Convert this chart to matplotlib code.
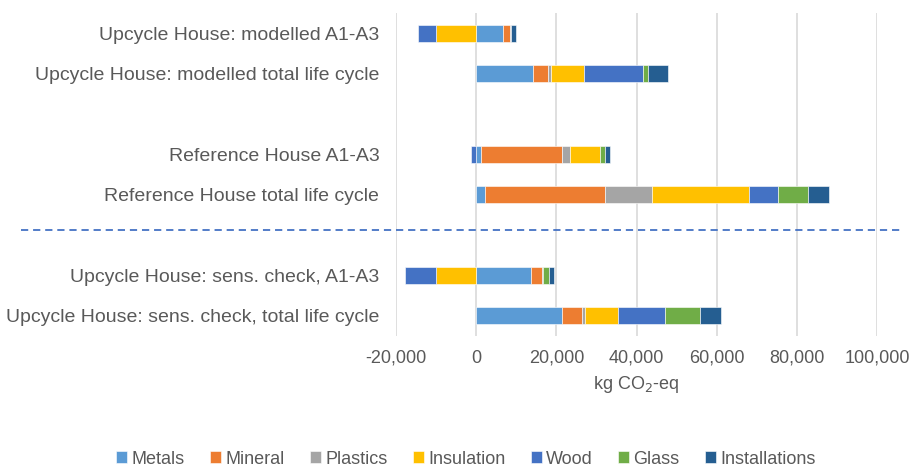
import matplotlib.pyplot as plt
from matplotlib.lines import Line2D

plt.rcParams['font.family'] = ['Liberation Sans', 'DejaVu Sans']

# categories, top to bottom ("" = empty spacer slot)
categories = ["Upcycle House: modelled A1-A3",
              "Upcycle House: modelled total life cycle",
              "",
              "Reference House A1-A3",
              "Reference House total life cycle",
              "",
              "Upcycle House: sens. check, A1-A3",
              "Upcycle House: sens. check, total life cycle"]

materials = ["Metals", "Mineral", "Plastics", "Insulation", "Wood", "Glass", "Installations"]
colors = ["#5B9BD5", "#ED7D31", "#A5A5A5", "#FFC000", "#4472C4", "#70AD47", "#255E91"]

# kg CO2-eq per material, one list per material, in category order
metals        = [6600, 14250, 0, 1300, 2300, 0, 13700, 21400]
mineral       = [1900, 3750, 0, 20000, 29750, 0, 2700, 4900]
plastics      = [150, 750, 0, 2150, 11750, 0, 200, 750]
insulation    = [-10000, 8150, 0, 7350, 24300, 0, -10000, 8250]
wood          = [-4400, 14750, 0, -1400, 7150, 0, -7700, 11750]
glass         = [150, 1150, 0, 1400, 7600, 0, 1650, 8850]
installations = [1250, 5100, 0, 1300, 5150, 0, 1250, 5250]

series = [metals, mineral, plastics, insulation, wood, glass, installations]

fig = plt.figure(figsize=(9.1, 4.68), dpi=100)
ax = fig.add_axes([396/910, 1-336/468, (877-396)/910, (336-13)/468])

ypos = list(range(len(categories)))
pos_left = [0]*len(categories)
neg_left = [0]*len(categories)
for name, vals, c in zip(materials, series, colors):
    ys, ws, ls = [], [], []
    for i, v in enumerate(vals):
        if v == 0:
            continue
        ys.append(i)
        ws.append(v)
        if v > 0:
            ls.append(pos_left[i])
            pos_left[i] += v
        else:
            ls.append(neg_left[i])
            neg_left[i] += v
    ax.barh(ys, ws, left=ls, height=0.42, color=c, label=name,
            edgecolor="white", linewidth=0.4, zorder=3)

ax.set_xlim(-20000, 100000)
ax.set_ylim(len(categories)-0.5, -0.5)
ax.set_xticks(range(-20000, 100001, 20000))
ax.xaxis.set_major_formatter(plt.FuncFormatter(lambda v, p: f"{int(v):,}"))
ax.set_yticks(ypos)
ax.set_yticklabels(categories)
ax.tick_params(axis='both', length=0, colors="#595959")
ax.tick_params(axis='y', pad=12, labelsize=14)
ax.tick_params(axis='x', pad=10, labelsize=13)
ax.grid(axis='x', color="#D9D9D9", linewidth=1.2, zorder=0)
for s in ax.spines.values():
    s.set_visible(False)
ax.set_xlabel("kg CO$_2$-eq", fontsize=13, color="#595959", labelpad=5)

# dashed separator across the whole figure
fig.add_artist(Line2D([21/910, 900/910], [1-230/468, 1-230/468],
                      color="#4472C4", linestyle=(0, (4, 2.7)), linewidth=1.3))

fig.legend(loc="center", bbox_to_anchor=(466/910, 1-459/468), ncol=7,
           frameon=False, fontsize=13, handlelength=0.6, handleheight=0.6,
           handletextpad=0.25, columnspacing=1.4, labelcolor="#595959")

plt.savefig("out.png")
